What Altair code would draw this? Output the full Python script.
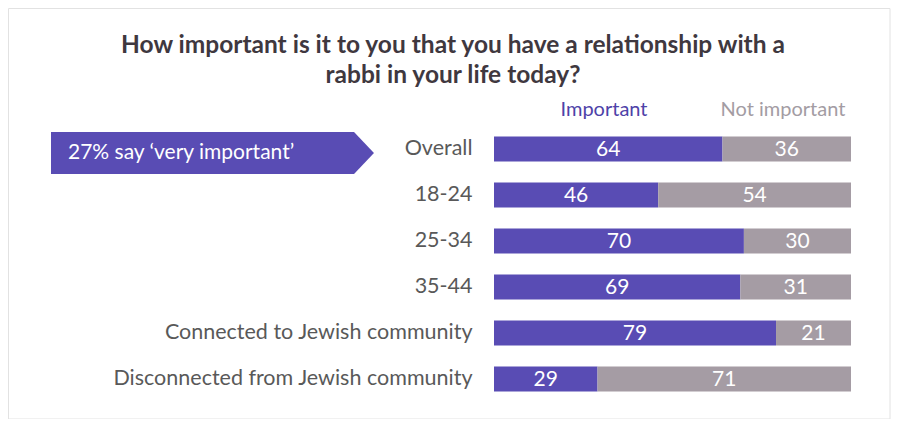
import altair as alt
import pandas as pd

categories = ["Overall", "18-24", "25-34", "35-44",
              "Connected to Jewish community", "Disconnected from Jewish community"]
important = [64, 46, 70, 69, 79, 29]
not_important = [36, 54, 30, 31, 21, 71]
series = ["Important", "Not important"]
title_lines = ["How important is it to you that you have a relationship with a",
               "rabbi in your life today?"]
callout = "27% say \u2018very important\u2019"

PURPLE = "#594cb4"
GRAY = "#a59ca4"
FONT = "Lato"

rows = []
for c, a, b in zip(categories, important, not_important):
    rows.append({"cat": c, "series": series[0], "start": 0, "end": a, "val": a})
    rows.append({"cat": c, "series": series[1], "start": a, "end": a + b, "val": b})
df = pd.DataFrame(rows)
df["mid"] = (df["start"] + df["end"]) / 2

W, H = 357, 276

y_enc = alt.Y("cat:N", sort=categories,
              scale=alt.Scale(paddingInner=0, paddingOuter=0),
              axis=alt.Axis(title=None, ticks=False, domain=False, labelPadding=22,
                            labelFontSize=21.5, labelColor="#595959", labelFont=FONT,
                            labelLimit=450))
x_scale = alt.Scale(domain=[0, 100], nice=False, zero=True)

base = alt.Chart(df)

bars = base.mark_bar(size=25).encode(
    y=y_enc,
    x=alt.X("start:Q", scale=x_scale, axis=None),
    x2="end:Q",
    color=alt.Color("series:N", scale=alt.Scale(domain=series, range=[PURPLE, GRAY]), legend=None),
)

labels = base.mark_text(color="white", fontSize=21, font=FONT, baseline="middle", dy=1).encode(
    y=alt.Y("cat:N", sort=categories),
    x=alt.X("mid:Q", scale=x_scale),
    text="val:Q",
)

hdr = pd.DataFrame({"t": series, "c": ["#4e42a8", "#a39ca3"], "px": [110, 289]})
headers = alt.Chart(hdr).mark_text(fontSize=20, font=FONT, baseline="middle").encode(
    text="t:N",
    x=alt.X("px:Q", scale=None),
    y=alt.value(-16),
    color=alt.Color("c:N", scale=None),
)

tdf = pd.DataFrame({"t": title_lines, "py": [-80, -50]})
title = alt.Chart(tdf).mark_text(fontSize=24.5, font=FONT, fontWeight="bold",
                                 color="#3f383f", baseline="middle").encode(
    text="t:N",
    x=alt.value(-41),
    y=alt.Y("py:Q", scale=None),
)

arrow = alt.Chart(pd.DataFrame({"a": [0]})).mark_point(
    shape="M0,-1L14.43,-1L15.38,0L14.43,1L0,1Z", size=1764, filled=True,
    fill=PURPLE, opacity=1, strokeWidth=0,
).encode(x=alt.value(-443), y=alt.value(27))

callout_text = alt.Chart(pd.DataFrame({"t": [callout]})).mark_text(
    fontSize=21, font=FONT, color="white", align="left", baseline="middle"
).encode(text="t:N", x=alt.value(-426), y=alt.value(27))

border = alt.Chart(pd.DataFrame({"a": [0]})).mark_rect(
    fill="transparent", stroke="#e2e2e2", strokeWidth=1
).encode(x=alt.value(-485.5), x2=alt.value(396), y=alt.value(-117.5), y2=alt.value(293))

chart = alt.layer(border, bars, labels, headers, title, arrow, callout_text).properties(
    width=W, height=H,
    background="white",
    autosize=alt.AutoSizeParams(type="none"),
    padding={"left": 486, "top": 118, "right": 41, "bottom": 17},
).configure_view(strokeWidth=0, stroke=None)

chart.save("out.html", embed_options={"renderer": "svg", "actions": False})
